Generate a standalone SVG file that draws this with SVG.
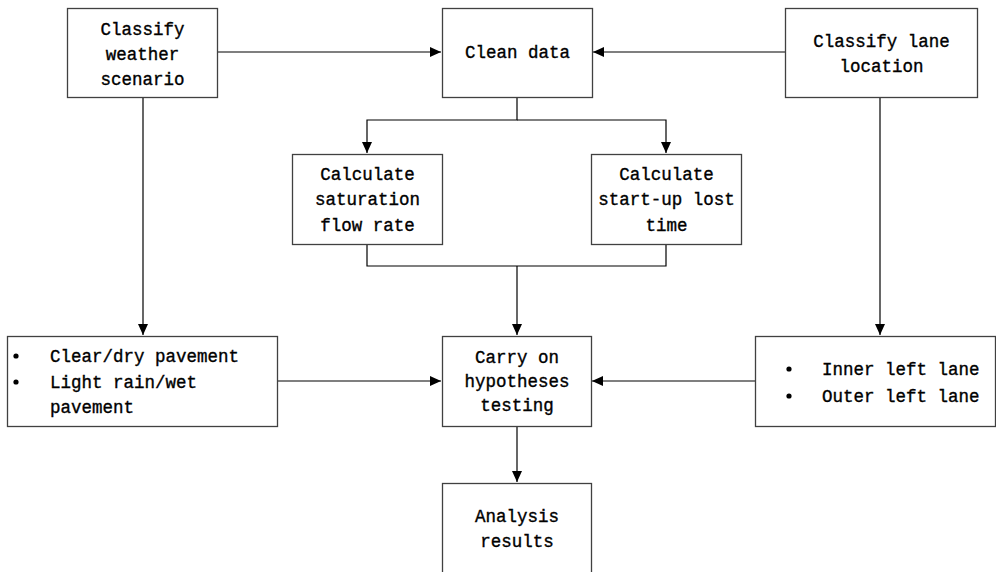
<svg xmlns="http://www.w3.org/2000/svg" width="996" height="572" viewBox="0 0 996 572">
<style>
.box{fill:#fff;stroke:#404040;stroke-width:1.3}
.t{font-family:"Liberation Mono","DejaVu Sans Mono",monospace;font-size:17.5px;fill:#000;stroke:#000;stroke-width:0.35}
.c{text-anchor:middle}
.ln{fill:none;stroke:#000;stroke-width:1.2}
</style>
<defs>
<marker id="arr" viewBox="0 0 11 10" refX="11" refY="5" markerWidth="11" markerHeight="10" markerUnits="userSpaceOnUse" orient="auto">
<path d="M0,0 L11,5 L0,10 Z" fill="#000"/>
</marker>
</defs>
<rect width="996" height="572" fill="#fff"/>
<g id="connectors">
<path class="ln" d="M217,52 H441" marker-end="url(#arr)"/>
<path class="ln" d="M785,52 H593" marker-end="url(#arr)"/>
<path class="ln" d="M517,97 V120 H367 V153"  marker-end="url(#arr)"/>
<path class="ln" d="M517,120 H666 V153" marker-end="url(#arr)"/>
<path class="ln" d="M367,244 V266 H666 V244"/>
<path class="ln" d="M517,266 V335" marker-end="url(#arr)"/>
<path class="ln" d="M143,97 V335" marker-end="url(#arr)"/>
<path class="ln" d="M880,97 V335" marker-end="url(#arr)"/>
<path class="ln" d="M277,381 H441" marker-end="url(#arr)"/>
<path class="ln" d="M755,381 H592" marker-end="url(#arr)"/>
<path class="ln" d="M517,426 V482" marker-end="url(#arr)"/>
</g>
<g id="weather">
<rect class="box" x="67.5" y="8.5" width="150" height="89"/>
<text class="t c" x="142.5" y="35">Classify</text>
<text class="t c" x="142.5" y="60">weather</text>
<text class="t c" x="142.5" y="85">scenario</text>
</g>
<g id="clean">
<rect class="box" x="442.5" y="8.5" width="150" height="89"/>
<text class="t c" x="517.5" y="58">Clean data</text>
</g>
<g id="lane">
<rect class="box" x="785.5" y="8.5" width="192" height="89"/>
<text class="t c" x="881.5" y="47">Classify lane</text>
<text class="t c" x="881.5" y="72">location</text>
</g>
<g id="saturation">
<rect class="box" x="292.5" y="154.5" width="150" height="90"/>
<text class="t c" x="367.5" y="180">Calculate</text>
<text class="t c" x="367.5" y="205">saturation</text>
<text class="t c" x="367.5" y="231">flow rate</text>
</g>
<g id="startup">
<rect class="box" x="591.5" y="154.5" width="150" height="90"/>
<text class="t c" x="666.5" y="180">Calculate</text>
<text class="t c" x="666.5" y="205">start-up lost</text>
<text class="t c" x="666.5" y="231">time</text>
</g>
<g id="pavement">
<rect class="box" x="7.5" y="336.5" width="270" height="90"/>
<circle cx="16" cy="356" r="2.6" fill="#000"/>
<circle cx="16" cy="382" r="2.6" fill="#000"/>
<text class="t" x="50" y="362">Clear/dry pavement</text>
<text class="t" x="50" y="388">Light rain/wet</text>
<text class="t" x="50" y="413">pavement</text>
</g>
<g id="hypotheses">
<rect class="box" x="442.5" y="336.5" width="149" height="90"/>
<text class="t c" x="517" y="363">Carry on</text>
<text class="t c" x="517" y="387">hypotheses</text>
<text class="t c" x="517" y="411">testing</text>
</g>
<g id="lanes">
<rect class="box" x="755.5" y="336.5" width="240" height="90"/>
<circle cx="789" cy="369" r="2.6" fill="#000"/>
<circle cx="789" cy="396" r="2.6" fill="#000"/>
<text class="t" x="822" y="375">Inner left lane</text>
<text class="t" x="822" y="402">Outer left lane</text>
</g>
<g id="results">
<rect class="box" x="442.5" y="483.5" width="149" height="100"/>
<text class="t c" x="517" y="522">Analysis</text>
<text class="t c" x="517" y="547">results</text>
</g>
</svg>
